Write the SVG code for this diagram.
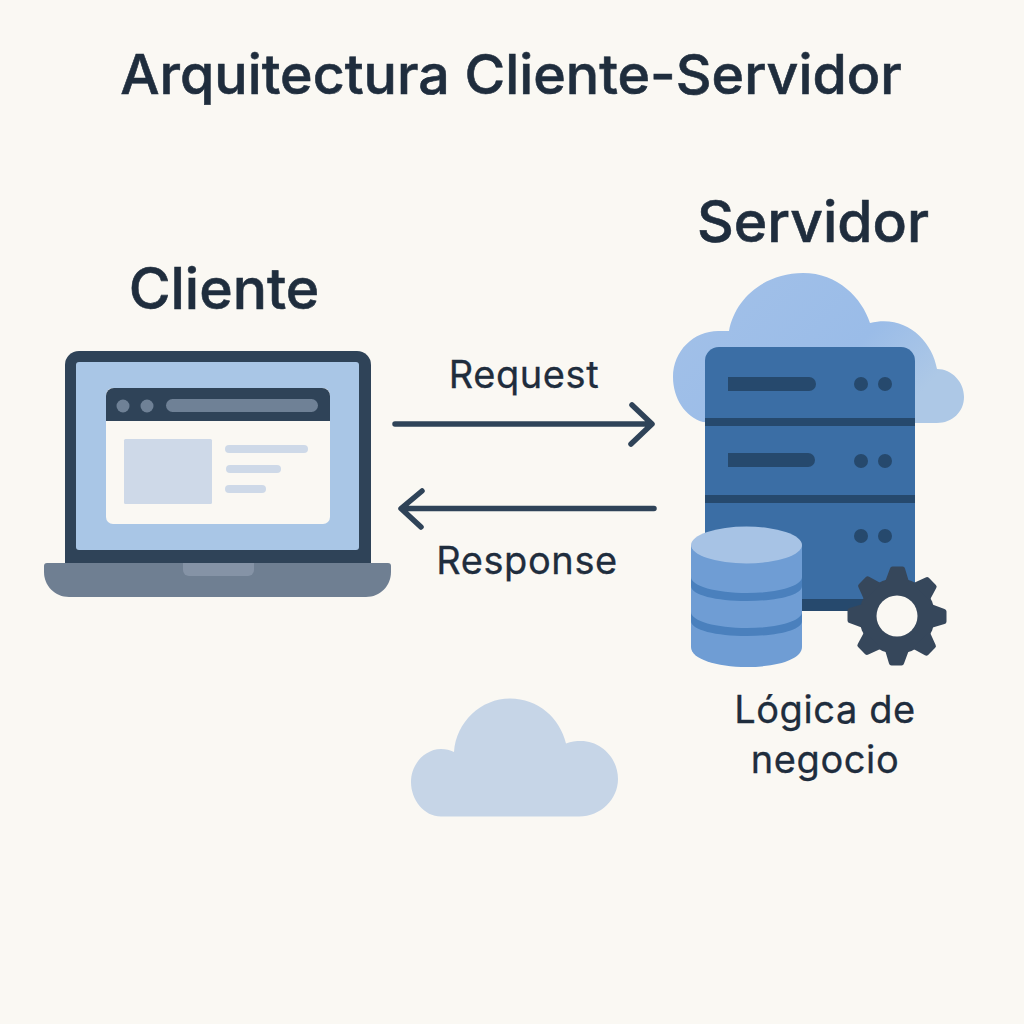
<svg xmlns="http://www.w3.org/2000/svg" xmlns:xlink="http://www.w3.org/1999/xlink" width="1024" height="1024" viewBox="0 0 1024 1024">
<style>
text{font-family:"Inter","Liberation Sans",sans-serif;fill:#1f2d3d;text-anchor:middle}
.h{font-size:57px;font-weight:500;stroke:#1f2d3d;stroke-width:.6px}
.t{font-size:55.500px;font-weight:500;stroke:#1f2d3d;stroke-width:.6px}
.l{font-size:38px;font-weight:400;letter-spacing:.6px;stroke:#1f2d3d;stroke-width:.3px}
.dk{fill:#2f4358}
.slot{fill:#26496d}
.lite{fill:#ced9e8}
.arrow{fill:none;stroke:#2f4358;stroke-width:5.500;stroke-linecap:round;stroke-linejoin:round}
</style>
<defs>
<linearGradient id="cg" x1="0" y1="0" x2="1" y2="0.5"><stop offset="0" stop-color="#a3c1e8"/><stop offset="0.7" stop-color="#9abce8"/><stop offset="1" stop-color="#adc8e6"/></linearGradient>
</defs>
<rect width="1024" height="1024" fill="#faf8f3"/>
<text id="title" class="t" x="511" y="94">Arquitectura Cliente-Servidor</text>
<g id="cliente">
<text class="h" x="224" y="309">Cliente</text>
<path class="dk" d="M65 365a14 14 0 0 1 14-14H357a14 14 0 0 1 14 14V565H65Z"/>
<rect x="76" y="362" width="283" height="188" rx="3" fill="#a9c6e6"/>
<rect x="106" y="388" width="224" height="136" rx="7" fill="#faf8f3"/>
<path class="dk" d="M106 421V396a8 8 0 0 1 8-8H322a8 8 0 0 1 8 8V421Z"/>
<circle cx="123" cy="406" r="6.500" fill="#6f8196"/>
<circle cx="147" cy="406" r="6.500" fill="#6f8196"/>
<rect x="166" y="399" width="152" height="13" rx="6.500" fill="#6f8196"/>
<rect class="lite" x="124" y="439" width="88" height="65" rx="1.500"/>
<rect class="lite" x="225" y="445" width="83" height="8" rx="4"/>
<rect class="lite" x="226" y="465" width="55" height="8" rx="4"/>
<rect class="lite" x="225" y="485" width="41" height="8" rx="4"/>
<path d="M44 566a3 3 0 0 1 3-3H388a3 3 0 0 1 3 3V572C391 586 380 597 366 597H69C55 597 44 586 44 572Z" fill="#6f7f92"/>
<path d="M183 563H254V570a6 6 0 0 1-6 6H189a6 6 0 0 1-6-6Z" fill="#8593a6"/>
</g>
<g id="connectors">
<g id="request"><path class="arrow" d="M395 424H650M632 405L652 424L631 444"/></g>
<g id="response"><path class="arrow" d="M654 508.500H402M422 491L401 508.500L421 527"/></g>
</g>
<text class="l" x="524" y="388">Request</text>
<text class="l" x="527" y="574">Response</text>
<g id="servidor">
<text class="h" x="813" y="242">Servidor</text>
<path fill="url(#cg)" d="M703 422C685 417 673 398 673 377C673 350 695 330 720 331L729 331C735 298 765 273 803 273C838 273 862 298 870 323C905 314 932 340 937 369C952 369 964 382 964 397C964 412 952 423 937 423H720Z"/>
<path d="M705 361a14 14 0 0 1 14-14H901a14 14 0 0 1 14 14V611H705Z" fill="#3b6ea5"/>
<rect class="slot" x="705" y="418" width="210" height="8"/>
<rect class="slot" x="705" y="495" width="210" height="8"/>
<rect class="slot" x="705" y="599" width="210" height="12"/>
<path class="slot" d="M728 377H809a6.500 6.500 0 0 1 0 14H728Z"/>
<path class="slot" d="M728 453H808a7 7 0 0 1 0 14H728Z"/>
<g class="slot"><circle cx="861" cy="384" r="7"/><circle cx="885" cy="384" r="7"/><circle cx="861" cy="461" r="7"/><circle cx="885" cy="461" r="7"/><circle cx="861" cy="536" r="7"/><circle cx="885" cy="536" r="7"/></g>
</g>
<g id="base-de-datos">
<path d="M691 545V647C691 659 716 667 747 667C778 667 802 659 802 647V545Z" fill="#6f9dd4"/>
<path d="M691 577C691 586 716 593 747 593C778 593 802 586 802 577V586C802 595 778 601 747 601C716 601 691 595 691 586Z" fill="#4a80bd"/>
<path d="M691 612C691 621 716 628 747 628C778 628 802 621 802 612V621C802 630 778 636 747 636C716 636 691 630 691 621Z" fill="#4a80bd"/>
<ellipse cx="746.500" cy="545" rx="55.500" ry="18.500" fill="#a7c3e5"/>
</g>
<g id="engranaje" fill="#36475b">
<circle cx="897" cy="616" r="38"/>
<g id="d"><path id="t" d="M885 582L890 568.500Q890.500 566.500 892.500 566.500H902.500Q904.500 566.500 905 568.500L909 582Z"/>
<use xlink:href="#t" href="#t" transform="rotate(45 897 616)"/>
<use xlink:href="#t" href="#t" transform="rotate(90 897 616)"/>
<use xlink:href="#t" href="#t" transform="rotate(135 897 616)"/>
</g>
<use xlink:href="#d" href="#d" transform="rotate(180 897 616)"/>
<circle cx="897" cy="616" r="20.500" fill="#faf8f3"/>
</g>
<text class="l" x="825" y="723">Lógica de</text>
<text class="l" x="825" y="773">negocio</text>
<g id="nube">
<path fill="#c6d5e7" d="M441 816.500C424 816.500 411 800 411 782C411 764 425 749 441 749C446 749 450 750 454 752C456 722 481 698.500 510 698.500C538 698.500 560 718 566 743.500C571 741.500 576 741 581 741C601 741 618 758 618 779C618 799 601 816.500 579 816.500Z"/>
</g>
</svg>
